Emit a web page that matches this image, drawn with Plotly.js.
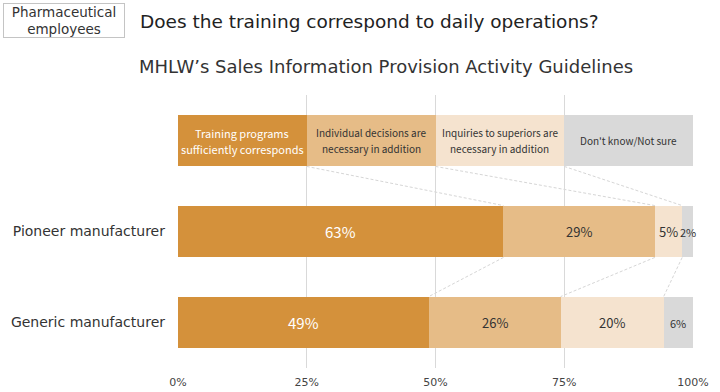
<!DOCTYPE html>
<html>
<head>
<meta charset="utf-8">
<script src="https://cdn.plot.ly/plotly-3.0.1.min.js"></script>
<style>html,body{margin:0;padding:0;background:#fff;}#chart{width:720px;height:392px;}</style>
</head>
<body>
<div id="chart"></div>
<script>
// ---- data ----
const seriesNames = ["Training programs<br>sufficiently corresponds", "Individual decisions are<br>necessary in addition", "Inquiries to superiors are<br>necessary in addition", "Don't know/Not sure"];
const rowLabels = ["Pioneer manufacturer", "Generic manufacturer"];
const headerShares = [25, 25, 25, 25];
const pioneerValues = [63.2, 29.4, 5.3, 2.1];
const genericValues = [48.7, 25.6, 20.0, 5.7];
const tickValues = [0, 25, 50, 75, 100];
const tickLabels = ["0%", "25%", "50%", "75%", "100%"];

const colors = ["#D4913B", "#E6BC87", "#F5E3CF", "#D9D9D9"];
const labelColors = ["#ffffff", "#333333", "#333333", "#333333"];
const headerFontSizes = [11, 10, 10, 10];
const pioneerLabelSizes = [15, 13, 13, 11];
const genericLabelSizes = [15, 13, 13, 11];
const HDR = "hdr";
const cats = [HDR, rowLabels[0], rowLabels[1]];

const traces = seriesNames.map((name, i) => ({
  type: "bar",
  orientation: "h",
  name: name.replace("<br>", " "),
  y: cats,
  x: [headerShares[i], pioneerValues[i], genericValues[i]],
  marker: { color: colors[i], line: { width: 0 } },
  hoverinfo: "skip",
  showlegend: false
}));

function cum(arr) { let s = 0; return arr.map(v => (s += v)); }
const cumH = cum(headerShares), cumP = cum(pioneerValues), cumG = cum(genericValues);
const half = 0.285;

const shapes = [];
for (let k = 0; k < 3; k++) {
  shapes.push({ type: "line", xref: "x", yref: "y", x0: cumH[k], y0: 0 + half, x1: cumP[k], y1: 1 - half,
    line: { color: "#d6d6d6", width: 1, dash: "3px,2px" }, layer: "below" });
  shapes.push({ type: "line", xref: "x", yref: "y", x0: cumP[k], y0: 1 + half, x1: cumG[k], y1: 2 - half,
    line: { color: "#d6d6d6", width: 1, dash: "3px,2px" }, layer: "below" });
}

const FONT = "Noto Sans CJK JP, Noto Sans, sans-serif";
const TFONT = "DejaVu Sans, sans-serif";
const annotations = [];

// header labels: one annotation per line
headerShares.forEach((v, i) => {
  const lines = seriesNames[i].split("<br>");
  const n = lines.length;
  lines.forEach((ln, j) => {
    annotations.push({ xref: "x", yref: "y", x: cumH[i] - v / 2, y: HDR, text: ln, showarrow: false,
      yshift: ((n - 1) / 2 - j) * 16,
      font: { family: FONT, size: headerFontSizes[i], color: labelColors[i] } });
  });
});

function addRowLabels(values, cumv, row, sizes) {
  values.forEach((v, i) => {
    annotations.push({ xref: "x", yref: "y", x: cumv[i] - v / 2, y: row, text: Math.round(v) + "%",
      showarrow: false, font: { family: FONT, size: sizes[i], color: labelColors[i] } });
  });
}
addRowLabels(pioneerValues, cumP, rowLabels[0], pioneerLabelSizes);
addRowLabels(genericValues, cumG, rowLabels[1], genericLabelSizes);

// subtitle
annotations.push({ xref: "paper", yref: "paper", x: (386 - 178) / 515, y: (368 - 67) / 273, xanchor: "center", yanchor: "middle",
  text: "MHLW’s Sales Information Provision Activity Guidelines", showarrow: false,
  font: { family: TFONT, size: 18, color: "#333" } });
// tag box
annotations.push({ xref: "paper", yref: "paper", x: (64 - 178) / 515, y: (368 - 20) / 273, xanchor: "center", yanchor: "middle",
  text: "Pharmaceutical<br>employees", showarrow: false, align: "center", width: 120, height: 33,
  bordercolor: "#c4c4c4", borderwidth: 1, borderpad: 0, bgcolor: "#fff",
  font: { family: TFONT, size: 13.5, color: "#333" } });

const layout = {
  width: 720, height: 392,
  margin: { l: 178, r: 27, t: 95, b: 24 },
  paper_bgcolor: "#fff", plot_bgcolor: "#fff",
  barmode: "stack", bargap: 0.43,
  title: { text: "Does the training correspond to daily operations?", xref: "container", yref: "container",
    x: 140 / 720, xanchor: "left", y: 1 - 22 / 392, yanchor: "middle",
    font: { family: TFONT, size: 18.5, color: "#222" } },
  xaxis: { range: [0, 100], tickvals: tickValues, ticktext: tickLabels, showgrid: true, gridcolor: "#d9d9d9",
    zeroline: false, showline: false, ticks: "", fixedrange: true, ticklabelstandoff: 6,
    tickfont: { family: "DejaVu Sans, sans-serif", size: 11, color: "#444" } },
  yaxis: { type: "category", categoryarray: cats, autorange: "reversed", tickvals: [rowLabels[0], rowLabels[1]],
    ticktext: rowLabels, showgrid: false, zeroline: false, showline: false, ticks: "", ticklabelstandoff: 12,
    tickfont: { family: "DejaVu Sans, sans-serif", size: 14, color: "#333" } },
  shapes: shapes,
  annotations: annotations,
  showlegend: false
};

Plotly.newPlot("chart", traces, layout, { displayModeBar: false, staticPlot: true });
</script>
</body>
</html>
